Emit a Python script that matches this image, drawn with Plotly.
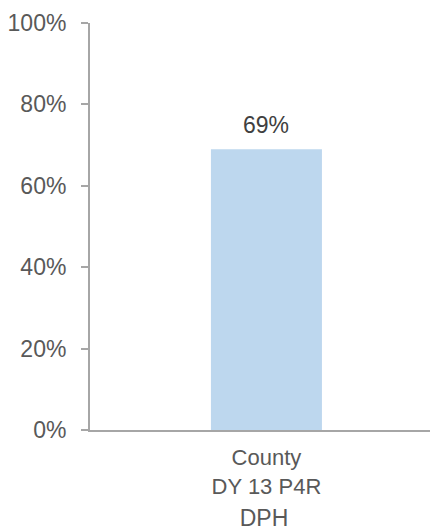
import plotly.graph_objects as go

categories = ["County<br>DY 13 P4R"]
values = [0.69]
y_ticks = [0, 0.2, 0.4, 0.6, 0.8, 1.0]
x_title = "DPH"

bar_color = "#BDD7EE"
axis_color = "#A6A6A6"
text_color = "#595959"
font_family = "Liberation Sans, Arial, sans-serif"

fig = go.Figure()
fig.add_trace(go.Bar(
    x=categories,
    y=values,
    marker=dict(color=bar_color, line=dict(width=0)),
    width=0.319,
    hoverinfo="skip",
))

for c, v in zip(categories, values):
    fig.add_annotation(
        x=c, y=v, text=f"{v:.0%}", showarrow=False,
        yanchor="bottom", yshift=9,
        font=dict(size=23, color="#404040", family=font_family),
    )

fig.update_layout(
    width=430, height=523,
    margin=dict(l=82, r=0, t=15, b=101),
    paper_bgcolor="white", plot_bgcolor="white",
    showlegend=False,
    font=dict(family=font_family, color=text_color, size=22),
)
fig.update_xaxes(
    range=[-0.507, 0.493], automargin=False,
    showline=True, linecolor=axis_color, linewidth=2,
    ticks="", showgrid=False, zeroline=False,
    tickfont=dict(size=22, color=text_color),
    ticklabelstandoff=7,
    title=dict(text=x_title, font=dict(size=23, color=text_color), standoff=13),
)
fig.update_yaxes(
    range=[0, 1], automargin=False,
    tickvals=y_ticks, tickformat=".0%",
    showline=True, linecolor=axis_color, linewidth=2,
    ticks="outside", ticklen=7, tickwidth=2, tickcolor=axis_color,
    ticklabelstandoff=10,
    showgrid=False, zeroline=False,
    tickfont=dict(size=23, color=text_color),
)

fig.write_html("out.html")
